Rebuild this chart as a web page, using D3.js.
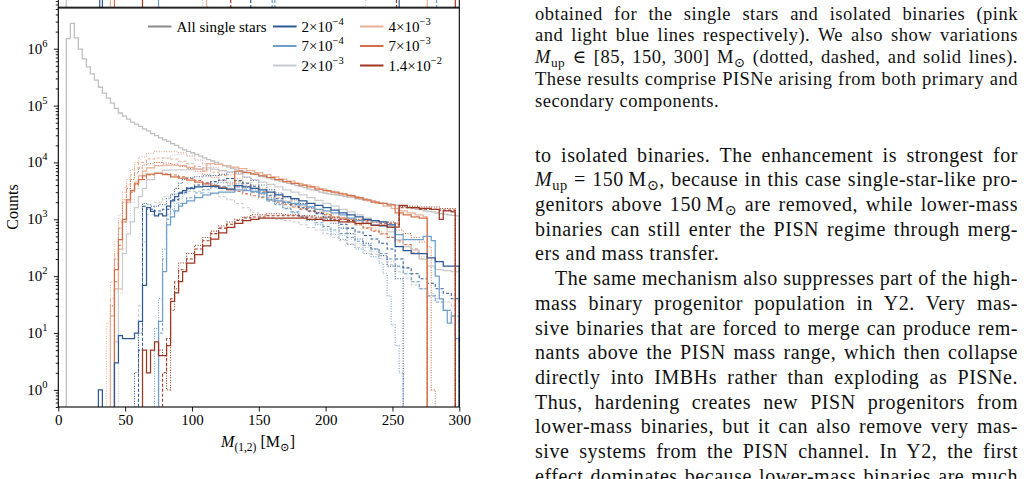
<!DOCTYPE html>
<head>
  <meta charset="utf-8">
  <title>PISN progenitor masses</title>
  <style>
    body { margin: 0; background: #fff; }
    #page { position: relative; width: 1026px; height: 479px; overflow: hidden; background: #fff; }
    #page svg { position: absolute; left: 0; top: 0; }
    .tick text, .lab { font-family: 'Liberation Serif', 'DejaVu Serif', serif; fill: #000; }
    .line { position: absolute; font-family: 'Liberation Serif', 'DejaVu Serif', serif;
            color: #111; white-space: nowrap; }
    .line sub { font-size: 0.72em; vertical-align: -0.28em; line-height: 0; }
  </style>
</head>

<body>
  <div id="page"></div>

  <script src="https://d3js.org/d3.v7.min.js"></script>

  <script>
    // ---- data ----
    // all single stars: 3 Msun bins starting at 6 Msun
    const singleStart = 6, singleWidth = 3;
    const singleCounts = [
      1.5e6, 2.8e6, 1.55e6, 9.8e5, 6.6e5, 4.8e5, 3.6e5, 2.8e5, 2.1e5, 1.66e5,
      1.35e5, 1.1e5, 8.9e4, 7.4e4, 6.5e4, 5.8e4, 5.1e4, 4.7e4, 4.3e4, 3.9e4,
      3.6e4, 3.2e4, 2.95e4, 2.7e4, 2.5e4, 2.35e4, 2.15e4, 2.0e4, 1.8e4, 1.66e4,
      1.57e4, 1.48e4, 1.38e4, 1.29e4, 1.2e4, 1.12e4, 1.06e4, 1.0e4, 9.3e3, 8.8e3,
      8.3e3, 7.9e3, 7.6e3, 7.2e3, 6.9e3, 6.6e3, 6.3e3, 6.1e3, 5.8e3, 5.6e3,
      5.4e3, 5.1e3, 4.9e3, 4.7e3, 4.5e3, 4.3e3, 4.1e3, 3.9e3, 3.75e3, 3.6e3,
      3.4e3, 3.3e3, 3.2e3, 3.0e3, 2.9e3, 2.8e3, 2.75e3, 2.7e3, 2.6e3, 2.5e3,
      2.45e3, 2.4e3, 2.3e3, 2.25e3, 2.2e3, 2.15e3, 2.1e3, 2.0e3, 1.95e3, 1.9e3,
      1.86e3, 1.82e3, 1.76e3, 1.7e3, 1.66e3, 1.62e3, 1.55e3, 1.5e3, 1.48e3, 1.41e3,
      1.38e3, 1.35e3, 1.29e3, 1.26e3, 1.23e3, 1.2e3, 1.17e3, 1.15e3
    ];

    // binary populations: [left bin edge, count], last entry closes the histogram
    const z1_dot = [[57,2],[60,10],[63,1900],[66,1800],[69,1700],[75,1800],[81,2300],[84,2700],[87,3500],[90,4300],[93,5000],[96,5400],[102,5600],[108,5800],[114,5900],[120,6200],[126,6800],[132,6500],[138,5500],[144,4800],[150,4000],[156,3300],[162,2900],[168,2500],[174,2200],[180,1900],[186,1600],[192,1300],[198,1000],[204,850],[210,700],[216,560],[222,450],[228,380],[234,300],[240,230],[246,150],[252,90],[258,0]];
    const z1_dash = [[60,5],[63,1700],[66,1500],[72,1400],[78,1500],[84,2200],[90,3000],[96,3600],[102,4000],[108,4300],[114,4600],[120,4900],[126,5200],[132,4800],[138,4300],[144,3800],[150,3000],[156,2600],[162,2300],[168,2000],[174,1800],[180,1600],[186,1400],[192,1250],[198,1100],[204,950],[210,820],[216,700],[222,600],[228,520],[234,450],[240,380],[246,300],[252,200],[258,140],[264,110],[270,90],[276,75],[282,60],[288,50],[294,40],[300,0]];
    const z1_solid = [[30,1],[33,0],[42,3],[45,9],[48,8],[57,10],[60,16],[63,69],[66,1600],[69,1380],[72,1150],[75,1250],[78,1150],[81,1700],[84,2100],[87,2500],[90,2900],[93,3200],[96,3500],[102,3700],[108,3800],[114,3800],[120,3500],[126,3400],[132,3900],[138,3700],[144,3500],[150,3300],[156,3000],[162,2700],[168,2500],[174,2300],[180,2100],[186,1900],[192,1750],[198,1600],[204,1450],[210,1300],[216,1200],[222,1100],[228,1000],[234,950],[240,900],[246,800],[252,330],[258,280],[264,250],[270,250],[276,210],[282,180],[288,150],[294,150],[300,0]];

    const z2_dot = [[72,12],[75,40],[78,300],[81,1200],[84,1500],[87,1900],[90,2300],[93,2800],[96,3300],[102,3700],[108,4000],[114,4200],[120,4400],[126,4500],[132,4200],[138,3800],[144,3300],[150,2800],[156,2300],[162,1900],[168,1600],[174,1300],[180,1100],[186,950],[192,800],[198,650],[204,540],[210,440],[216,360],[222,300],[228,250],[234,220],[240,170],[243,110],[246,45],[249,14],[252,6],[255,2],[258,0]];
    const z2_dash = [[75,10],[78,200],[81,1000],[84,1400],[90,1900],[96,2400],[102,2900],[108,3300],[114,3600],[120,3800],[126,3900],[132,3700],[138,3400],[144,3000],[150,2500],[156,2100],[162,1800],[168,1550],[174,1350],[180,1150],[186,1000],[192,870],[198,750],[204,650],[210,560],[216,480],[222,410],[228,350],[234,300],[240,250],[246,200],[252,150],[258,110],[264,80],[270,60],[276,45],[282,35],[288,25],[294,20],[300,0]];
    const z2_solid = [[75,16],[78,120],[81,800],[84,1100],[87,1400],[90,1700],[93,1900],[96,2100],[102,2400],[108,2700],[114,2900],[120,3000],[126,3000],[132,3300],[138,3200],[144,3100],[150,2900],[156,2200],[162,2100],[168,2000],[174,1900],[180,1800],[186,1650],[192,1500],[198,1400],[204,1300],[210,1200],[216,1050],[222,950],[228,850],[234,800],[240,760],[246,720],[252,540],[258,440],[273,500],[279,420],[282,100],[285,40],[288,25],[291,15],[294,20],[297,8],[300,0]];

    const z3_dot = [[45,50],[48,300],[51,900],[54,2000],[57,3500],[60,5000],[63,6500],[66,8000],[72,10000],[78,12000],[84,13500],[90,14000],[96,13000],[102,11000],[108,9000],[114,7500],[120,6200],[126,5200],[132,4300],[138,3600],[144,3000],[150,2500],[156,2100],[162,1800],[168,1500],[174,1300],[180,1100],[186,950],[192,800],[198,700],[204,600],[210,520],[216,450],[222,380],[228,320],[234,270],[240,220],[246,180],[252,140],[258,110],[264,80],[270,60],[276,45],[282,35],[288,25],[294,15],[300,0]];
    const z3_dash = [[60,30],[63,400],[66,1200],[72,2000],[78,2500],[84,2800],[90,3000],[96,3100],[102,3100],[108,3000],[114,2800],[120,2500],[126,2200],[132,1900],[138,1600],[144,1300],[150,1150],[156,1050],[162,1000],[168,950],[174,900],[180,800],[186,720],[192,650],[198,560],[204,480],[210,420],[216,370],[222,320],[228,280],[234,240],[240,200],[246,160],[252,120],[258,90],[264,70],[270,60],[276,50],[282,40],[288,35],[294,30],[300,0]];
    const z3_solid = [[42,7],[45,60],[48,250],[51,550],[54,900],[57,1600],[60,2500],[63,3500],[66,5000],[72,6500],[78,7300],[84,7400],[90,7400],[96,7500],[102,7700],[108,8000],[114,7600],[120,7200],[126,6800],[132,6200],[138,5500],[144,5000],[150,4500],[156,4100],[162,3700],[168,3300],[174,3000],[180,2700],[186,2400],[192,2150],[198,1900],[204,1700],[210,1500],[216,1350],[222,1200],[228,1050],[234,900],[240,750],[246,600],[252,440],[258,330],[264,290],[270,200],[276,150],[282,130],[288,125],[294,120],[300,0]];

    const z4_dot = [[36,15],[39,80],[42,400],[45,1200],[48,3000],[51,5000],[54,7500],[57,10000],[60,12500],[66,14500],[72,15500],[78,15500],[84,15500],[90,15000],[96,13000],[102,11000],[108,9500],[114,8200],[120,7000],[126,6000],[132,5200],[138,4500],[144,4000],[150,3500],[156,3000],[162,2700],[168,2400],[174,2100],[180,1900],[186,1700],[192,1500],[198,1350],[204,1200],[210,1100],[216,1000],[222,900],[228,800],[234,700],[240,600],[246,500],[252,420],[258,350],[264,280],[270,220],[276,0]];
    const z4_dash = [[39,40],[42,250],[45,900],[48,2200],[51,4000],[54,6000],[57,8000],[60,10000],[66,11500],[72,12000],[78,12000],[84,11500],[90,10500],[96,9500],[102,8500],[108,7600],[114,6700],[120,5900],[126,5200],[132,4600],[138,4000],[144,3500],[150,3100],[156,2700],[162,2400],[168,2100],[174,1900],[180,1700],[186,1550],[192,1400],[198,1250],[204,1100],[210,1000],[216,900],[222,800],[228,720],[234,640],[240,560],[246,480],[252,400],[258,330],[264,260],[270,200],[276,0]];
    const z4_solid = [[39,20],[42,60],[45,300],[48,900],[51,2000],[54,3200],[57,4500],[60,5800],[63,7000],[66,8000],[72,8800],[78,9000],[84,9000],[90,8800],[96,8200],[102,7600],[108,7000],[111,9500],[117,9200],[123,8800],[129,8300],[135,7800],[141,7200],[147,6600],[153,6100],[159,5600],[165,5100],[171,4700],[177,4300],[183,4000],[189,3700],[195,3400],[201,3100],[207,2900],[213,2700],[219,2500],[225,2300],[231,2100],[237,1900],[243,1700],[249,1550],[255,1400],[261,1300],[267,1200],[273,1100],[276,0]];

    const z5_dot = [[39,30],[42,200],[45,700],[48,2000],[51,3500],[54,5000],[57,6500],[60,8000],[63,9000],[66,9500],[72,10000],[78,9800],[84,9300],[90,8500],[96,7800],[102,7000],[108,6200],[114,5500],[120,4800],[126,4200],[132,3700],[138,3300],[144,3000],[150,2700],[156,2400],[162,2100],[168,1900],[174,1700],[180,1550],[186,1400],[192,1300],[198,1200],[204,1100],[210,1050],[216,1000],[222,980],[228,950],[234,880],[240,800],[246,720],[252,650],[258,560],[264,480],[270,400],[276,330],[279,1],[282,0]];
    const z5_dash = [[42,80],[45,350],[48,900],[51,2000],[54,3000],[57,4000],[60,5000],[66,6000],[72,6500],[78,6300],[84,6000],[90,5600],[96,5200],[102,4800],[108,4400],[114,4000],[120,3700],[126,3400],[132,3100],[138,2800],[144,2600],[150,2400],[156,2200],[162,2000],[168,1800],[174,1650],[180,1500],[186,1400],[192,1300],[198,1200],[204,1100],[210,1000],[216,900],[222,800],[228,700],[234,620],[240,550],[246,480],[252,420],[258,360],[264,300],[270,250],[276,0]];
    const z5_solid = [[42,130],[45,440],[48,1000],[51,2200],[54,3200],[57,4200],[60,5000],[63,5800],[66,6200],[72,6400],[78,6100],[84,5600],[90,5300],[96,4900],[102,4500],[108,4200],[114,3900],[120,3600],[126,3300],[132,7000],[138,6600],[144,6200],[150,5800],[156,5400],[162,5000],[168,4600],[174,4300],[180,4000],[186,3700],[192,3400],[198,3200],[204,3000],[210,2800],[216,2600],[222,2400],[228,2200],[234,2000],[240,1900],[246,1800],[252,1300],[258,1200],[264,1100],[270,1050],[276,0]];

    const z6_dot = [[75,5],[78,4],[81,1],[84,25],[87,60],[90,170],[96,250],[102,350],[108,480],[114,620],[120,760],[126,900],[132,1000],[138,1100],[144,1200],[156,1250],[168,1200],[180,1150],[192,1100],[204,1050],[216,1000],[228,950],[240,900],[252,850],[255,1700],[270,1650],[285,1550],[297,0]];
    const z6_dash = [[78,2],[81,8],[84,40],[87,80],[90,130],[96,200],[102,300],[108,420],[114,560],[120,700],[126,820],[132,950],[138,1050],[144,1100],[156,1150],[168,1150],[180,1100],[192,1050],[204,1000],[216,950],[228,900],[240,850],[252,800],[255,1600],[270,1500],[285,1450],[297,0]];
    const z6_solid = [[63,5],[66,2],[69,5],[72,7],[75,4],[81,6],[84,36],[87,51],[90,80],[93,120],[96,170],[102,240],[108,340],[114,450],[120,580],[126,720],[132,850],[138,950],[144,1000],[150,1050],[162,1050],[174,1050],[186,1000],[198,950],[210,900],[222,850],[234,780],[246,730],[255,1750],[261,1600],[270,1550],[279,1500],[285,1000],[288,1400],[294,1350],[297,0]];

    // metallicity legend labels (mantissa, exponent)
    const zMant = ['2', '7', '2', '4', '7', '1.4'];
    const zExp = ['\u22124', '\u22124', '\u22123', '\u22123', '\u22123', '\u22122'];

    // histogram edges of the panel above that cross into view
    const upperCutM = [6, 31, 33, 39, 42, 63, 75, 108, 111, 129, 144, 160, 162, 230, 253, 255, 276, 283, 297];
    const upperCutZ = [-1, 0, 0, 3, 4, 5, 1, 2, 3, 5, 0, 1, 1, 2, 5, 0, 3, 1, 5];
    const upperCutStyle = ['solid','solid','solid','solid','solid','solid','solid','dot','solid','dash','dash','dash','dash','dot','dash','solid','solid','dash','solid'];

    const xTicks = [0, 50, 100, 150, 200, 250, 300];
    const yDecades = [0, 1, 2, 3, 4, 5, 6];

    const captionLines = [
      'obtained for the single stars and isolated binaries (pink',
      'and light blue lines respectively). We also show variations',
      '<i>M</i><sub>up</sub> \u2208 [85, 150, 300] M<sub>\u2299</sub> (dotted, dashed, and solid lines).',
      'These results comprise PISNe arising from both primary and',
      'secondary components.'
    ];
    const bodyLines = [
      'to isolated binaries. The enhancement is strongest for',
      '<i>M</i><sub>up</sub> = 150\u2009M<sub>\u2299</sub>, because in this case single-star-like pro-',
      'genitors above 150\u2009M<sub>\u2299</sub> are removed, while lower-mass',
      'binaries can still enter the PISN regime through merg-',
      'ers and mass transfer.',
      'The same mechanism also suppresses part of the high-',
      'mass binary progenitor population in Y2. Very mas-',
      'sive binaries that are forced to merge can produce rem-',
      'nants above the PISN mass range, which then collapse',
      'directly into IMBHs rather than exploding as PISNe.',
      'Thus, hardening creates new PISN progenitors from',
      'lower-mass binaries, but it can also remove very mas-',
      'sive systems from the PISN channel. In Y2, the first',
      'effect dominates because lower-mass binaries are much'
    ];

    // ---- styling ----
    const zColors = ['#2d5a96', '#6f9fcb', '#c9cbcf', '#e8b096', '#d4714a', '#9e3621'];
    const singleColor = '#c0c0c0', singleLegend = '#8a8a8a';
    const dashes = { solid: null, dash: '3,2', dot: '1,1.5' };
    const serif = "'Liberation Serif', 'DejaVu Serif', serif";

    const series = [
      { d: z3_dash, z: 2, s: 'dash' }, { d: z3_dot, z: 2, s: 'dot' },
      { d: z4_dash, z: 3, s: 'dash' }, { d: z4_dot, z: 3, s: 'dot' },
      { d: z5_dash, z: 4, s: 'dash' }, { d: z5_dot, z: 4, s: 'dot' },
      { d: z2_dash, z: 1, s: 'dash' }, { d: z2_dot, z: 1, s: 'dot' },
      { d: z1_dash, z: 0, s: 'dash' }, { d: z1_dot, z: 0, s: 'dot' },
      { d: z6_dash, z: 5, s: 'dash' }, { d: z6_dot, z: 5, s: 'dot' },
      { d: z3_solid, z: 2, s: 'solid' }, { d: z4_solid, z: 3, s: 'solid' },
      { d: z5_solid, z: 4, s: 'solid' }, { d: z2_solid, z: 1, s: 'solid' },
      { d: z1_solid, z: 0, s: 'solid' }, { d: z6_solid, z: 5, s: 'solid' }
    ];

    // ---- chart ----
    const W = 1026, H = 479;
    const plot = { left: 58.3, right: 459.3, top: 8, bottom: 407 };

    let svg = d3.select('#page')
      .append('svg')
      .attr('width', W)
      .attr('height', H);

    let x = d3.scaleLinear().domain([0, 300]).range([plot.left, plot.right]);
    let y = d3.scaleLog().domain([0.5, 5.2e6]).range([plot.bottom, plot.top]);
    const floor = 0.1;

    svg.append('clipPath').attr('id', 'clip')
      .append('rect')
      .attr('x', plot.left).attr('y', plot.top)
      .attr('width', plot.right - plot.left).attr('height', plot.bottom - plot.top);

    let line = d3.line()
      .x(d => x(d[0]))
      .y(d => y(d[1] > 0 ? d[1] : floor))
      .curve(d3.curveStepAfter);

    function stepPoints(pairs) {
      return [[pairs[0][0], floor]].concat(pairs);
    }

    let g = svg.append('g').attr('clip-path', 'url(#clip)');

    // all single stars
    let singlePairs = singleCounts.map((c, i) => [singleStart + i * singleWidth, c]);
    singlePairs.push([singleStart + singleCounts.length * singleWidth, 0]);
    g.append('path')
      .attr('d', line(stepPoints(singlePairs)))
      .attr('fill', 'none')
      .attr('stroke', singleColor)
      .attr('stroke-width', 1.3);

    g.selectAll('path.hist')
      .data(series)
      .join('path')
      .attr('class', 'hist')
      .attr('d', s => line(stepPoints(s.d)))
      .attr('fill', 'none')
      .attr('stroke', s => zColors[s.z])
      .attr('stroke-width', s => s.s === 'solid' ? 1.25 : 1.05)
      .attr('stroke-dasharray', s => dashes[s.s]);

    // strip of the panel above
    let upper = svg.append('g');
    upper.selectAll('line.cut')
      .data(upperCutM)
      .join('line')
      .attr('class', 'cut')
      .attr('x1', d => x(d)).attr('x2', d => x(d))
      .attr('y1', 0).attr('y2', plot.top)
      .attr('stroke', (d, i) => upperCutZ[i] < 0 ? singleColor : zColors[upperCutZ[i]])
      .attr('stroke-width', 1.2)
      .attr('stroke-dasharray', (d, i) => dashes[upperCutStyle[i]]);
    upper.append('line').attr('x1', plot.left).attr('x2', plot.left).attr('y1', 0).attr('y2', plot.top).attr('stroke', '#000');
    upper.append('line').attr('x1', plot.right).attr('x2', plot.right).attr('y1', 0).attr('y2', plot.top).attr('stroke', '#000');
    upper.selectAll('line.mt')
      .data([1.5, 5])
      .join('line')
      .attr('class', 'mt')
      .attr('x1', plot.left - 2.5).attr('x2', plot.left)
      .attr('y1', d => d).attr('y2', d => d)
      .attr('stroke', '#000').attr('stroke-width', 0.8);

    // frame
    svg.append('rect')
      .attr('x', plot.left).attr('y', plot.top)
      .attr('width', plot.right - plot.left).attr('height', plot.bottom - plot.top)
      .attr('fill', 'none').attr('stroke', '#000').attr('stroke-width', 1.1);
    svg.append('line')
      .attr('x1', plot.left).attr('x2', plot.right)
      .attr('y1', plot.top - 0.8).attr('y2', plot.top - 0.8)
      .attr('stroke', '#000').attr('stroke-width', 1);

    // x axis
    let xAxis = svg.append('g')
      .attr('transform', `translate(0, ${plot.bottom})`)
      .call(d3.axisBottom(x).tickValues(xTicks).tickSize(4.5).tickPadding(2.5));
    xAxis.select('.domain').remove();
    xAxis.attr('font-family', serif);
    xAxis.selectAll('text').attr('font-size', 15);

    // y axis, major + minor ticks
    let minor = [];
    for (let e = -1; e <= 6; e++) for (let k = 2; k <= 9; k++) {
      let v = k * Math.pow(10, e);
      if (v >= 0.5 && v <= 5.2e6) minor.push(v);
    }
    let yAxis = svg.append('g').attr('transform', `translate(${plot.left}, 0)`);
    yAxis.call(d3.axisLeft(y).tickValues(minor).tickSize(2.5).tickFormat(''));
    yAxis.select('.domain').remove();
    let yMajor = svg.append('g').attr('transform', `translate(${plot.left}, 0)`)
      .call(d3.axisLeft(y).tickValues(yDecades.map(e => Math.pow(10, e))).tickSize(4.5).tickFormat(''));
    yMajor.select('.domain').remove();
    svg.selectAll('.tick line').attr('stroke-width', 0.9);

    let yLab = svg.append('g');
    yDecades.forEach(e => {
      let t = yLab.append('text')
        .attr('class', 'lab')
        .attr('x', 47.5)
        .attr('y', y(Math.pow(10, e)) + 5)
        .attr('text-anchor', 'end')
        .attr('font-size', 15);
      t.append('tspan').text('10');
      t.append('tspan').attr('dy', -7).attr('font-size', 10.5).text(e);
    });

    // axis labels
    svg.append('text')
      .attr('class', 'lab')
      .attr('transform', 'translate(18, 207) rotate(-90)')
      .attr('text-anchor', 'middle')
      .attr('font-size', 16)
      .text('Counts');

    let xl = svg.append('text')
      .attr('class', 'lab')
      .attr('x', 258).attr('y', 447)
      .attr('text-anchor', 'middle')
      .attr('font-size', 16);
    xl.append('tspan').attr('font-style', 'italic').text('M');
    xl.append('tspan').attr('dy', 4).attr('font-size', 11.5).text('(1,2)');
    xl.append('tspan').attr('dy', -4).text(' [M');
    xl.append('tspan').attr('dy', 4).attr('font-size', 11.5).text('\u2299');
    xl.append('tspan').attr('dy', -4).text(']');

    // legend
    let legendItems = [{ col: 0, row: 0, color: singleLegend, label: 'All single stars' }];
    zMant.forEach((m, i) => legendItems.push({ col: 1 + Math.floor(i / 3), row: i % 3, color: zColors[i], m: m, e: zExp[i] }));
    const colX = [148, 273, 360], rowY = [26.5, 46, 65.5];
    let leg = svg.append('g');
    legendItems.forEach(it => {
      leg.append('line')
        .attr('x1', colX[it.col]).attr('x2', colX[it.col] + 23.5)
        .attr('y1', rowY[it.row]).attr('y2', rowY[it.row])
        .attr('stroke', it.color).attr('stroke-width', 2);
      let t = leg.append('text')
        .attr('class', 'lab')
        .attr('x', colX[it.col] + 28.5)
        .attr('y', rowY[it.row] + 5)
        .attr('font-size', 15);
      if (it.label) {
        t.text(it.label);
      } else {
        t.append('tspan').text(it.m + '\u00d710');
        t.append('tspan').attr('dy', -7).attr('font-size', 10.5).text(it.e);
      }
    });

    // ---- page text ----
    const colLeft = 535, colWidth = 483, indent = 20;
    let textRows = [];
    captionLines.forEach((h, i) => textRows.push({
      html: h, cy: 14 + 21.75 * i, size: 18.5, ls: 0.5,
      left: colLeft, width: colWidth, just: i < captionLines.length - 1
    }));
    bodyLines.forEach((h, i) => textRows.push({
      html: h, cy: 155 + 24.7 * i, size: 20, ls: 0.55,
      left: colLeft + (i === 5 ? indent : 0), width: colWidth - (i === 5 ? indent : 0), just: i !== 4
    }));

    const page = d3.select('#page');
    let rows = page.selectAll('div.line')
      .data(textRows)
      .join('div')
      .attr('class', 'line')
      .style('left', d => d.left + 'px')
      .style('top', d => (d.cy - d.size * 0.62) + 'px')
      .style('font-size', d => d.size + 'px')
      .style('line-height', d => (d.size * 1.2) + 'px')
      .style('letter-spacing', d => d.ls + 'px');
    rows.append('span').html(d => d.html);

    // justify each full line to the column width
    rows.each(function (d) {
      if (!d.just) return;
      const span = this.firstChild;
      const natural = span.getBoundingClientRect().width;
      const gaps = (span.textContent.match(/ /g) || []).length;
      if (gaps > 0) d3.select(this).style('word-spacing', ((d.width - natural) / gaps) + 'px');
    });
  </script>
</body>

</html>
